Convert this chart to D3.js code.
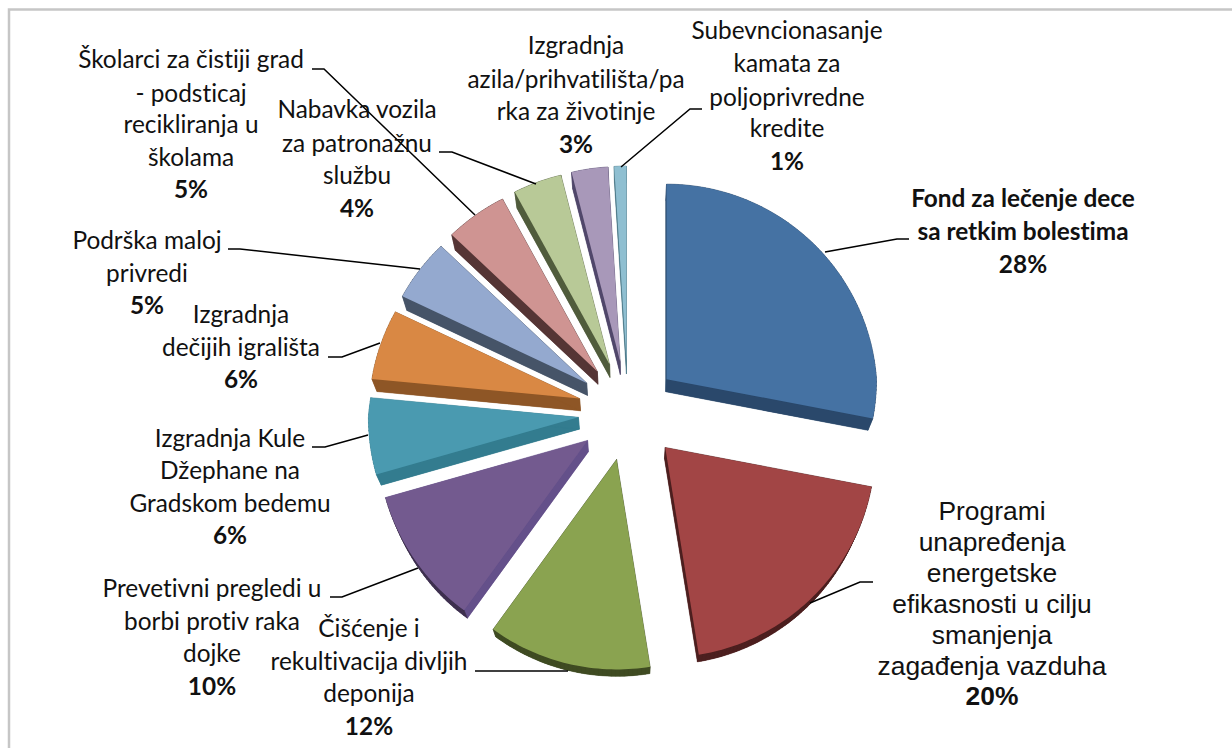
<!DOCTYPE html>
<html>
<head>
<meta charset="utf-8">
<script src="https://cdn.jsdelivr.net/npm/d3@7"></script>
<style>
  html, body { margin: 0; padding: 0; background: #fff; }
  svg { display: block; }
</style>
</head>
<body>
<div id="graph"></div>
<script>
// Data /////////////////////////////////////////////////////////////////////
const values = [28, 20, 12, 10, 6, 6, 5, 5, 4, 3, 1];

const categories = [
  ["Fond za lečenje dece", "sa retkim bolestima"],
  ["Programi", "unapređenja", "energetske", "efikasnosti u cilju", "smanjenja", "zagađenja vazduha"],
  ["Čišćenje i", "rekultivacija divljih", "deponija"],
  ["Prevetivni pregledi u", "borbi protiv raka", "dojke"],
  ["Izgradnja Kule", "Džephane na", "Gradskom bedemu"],
  ["Izgradnja", "dečijih igrališta"],
  ["Podrška maloj", "privredi"],
  ["Školarci za čistiji grad", "- podsticaj", "recikliranja u", "školama"],
  ["Nabavka vozila", "za patronažnu", "službu"],
  ["Izgradnja", "azila/prihvatilišta/pa", "rka za životinje"],
  ["Subevncionasanje", "kamata za", "poljoprivredne", "kredite"]
];

// Colours //////////////////////////////////////////////////////////////////
const topColors = ["#4572a3", "#a24545", "#8aa350", "#735a8f", "#4a9ab0", "#d98844", "#94a9cf", "#cf9492", "#b8c997", "#a898b9", "#8fbfd1"];
const wallColors = ["#2a486b", "#4c1f1f", "#3f4b22", "#64508a", "#337c8f", "#8e5626", "#465468", "#553535", "#505c3c", "#50476a", "#4e7a89"];
const rimColors = ["#2a486b", "#4c1f1f", "#3f4b22", "#3d2f4d", "#337c8f", "#8e5626", "#465468", "#553535", "#505c3c", "#50476a", "#4e7a89"];

// Layout ///////////////////////////////////////////////////////////////////
const svgWidth = 1232;
const svgHeight = 748;
const center = { x: 628, y: 411 };
const explode = 50;
const apexShift = [0, 3, 1, 0, 0, 0, 0, 0, 0, 0, 0];

// label centre x and the baseline of each line (last one is the percent)
const labelX = [1023, 992, 369, 212, 230, 241, 147, 191, 357, 576, 787];
const labelY = [
  [207, 240, 273],
  [520, 551, 582, 613, 644, 675, 705],
  [637, 670, 702, 735],
  [597, 630, 662, 695],
  [447, 479, 512, 544],
  [323, 356, 388],
  [249, 282, 314],
  [68, 102, 133, 166, 198],
  [118, 152, 184, 217],
  [54, 88, 120, 153],
  [39, 72, 106, 137, 170]
];

// leader lines, label end first
const leaders = [
  [[909, 239], [897, 239], [825, 252]],
  [[873, 582], [860, 582], [810, 603]],
  [[475, 671], [568, 671]],
  [[330, 597], [342, 597], [418, 568]],
  [[312, 447], [325, 447], [368, 435]],
  [[328, 357], [342, 357], [380, 343]],
  [[228, 249], [240, 249], [420, 269]],
  [[312, 69], [324, 69], [475, 215]],
  [[439, 152], [452, 152], [536, 184]],
  [[702, 109], [690, 109], [621, 167]]
];

// Perspective: the far side of the pie draws smaller than the near side
const radius = d3.scaleLinear().domain([0, 1]).range([210, 195]);
// and angles get pulled a little around the front (degrees in, degrees of shift out)
const angleShift = d3.scaleLinear()
  .domain([100.8, 172.8, 216, 252, 273.6, 295.2])
  .range([0, -2, 0, 2.2, 1.8, 0])
  .clamp(true);
const lift = 0.98;
const depth = 12;

const svg = d3.select("#graph")
  .append("svg")
  .attr("width", svgWidth)
  .attr("height", svgHeight);

// Frame, only top and left are in the photo
svg.append("path")
  .attr("d", `M9 ${svgHeight} V9.5 H${svgWidth}`)
  .attr("fill", "none")
  .attr("stroke", "#c6c6c6")
  .attr("stroke-width", 2.5);

// Pie //////////////////////////////////////////////////////////////////////
const pie = d3.pie().sort(null).value(d => d)(values);

function topPoint(angle, apex) {
  const a = angle + angleShift(angle * 180 / Math.PI) * Math.PI / 180;
  const r = radius(Math.max(0, Math.cos(a)));
  return [apex[0] + r * Math.sin(a), apex[1] - r * Math.cos(a)];
}

function lowerPoint(p) {
  return [
    center.x + (p[0] - center.x) * lift,
    center.y + (p[1] - center.y) * lift + depth
  ];
}

function sliceOutline(d, i) {
  const mid = (d.startAngle + d.endAngle) / 2;
  const apex = [
    center.x + explode * Math.sin(mid) + apexShift[i],
    center.y - explode * Math.cos(mid)
  ];
  const steps = Math.max(4, Math.ceil((d.endAngle - d.startAngle) / 0.02));
  const arcAngles = d3.range(steps + 1).map(j => d.startAngle + (d.endAngle - d.startAngle) * j / steps);
  return [apex].concat(arcAngles.map(a => topPoint(a, apex)));
}

const line = d3.line();

const slices = svg.append("g")
  .selectAll(".slice")
  .data(pie)
  .join("g")
  .attr("class", "slice");

// lower face and walls first, top face goes on top of them
slices.each(function (d, i) {
  const g = d3.select(this);
  const outline = sliceOutline(d, i);
  const lower = outline.map(lowerPoint);

  g.append("path")
    .attr("d", line(lower) + "Z")
    .attr("fill", wallColors[i]);

  outline.forEach((p, j) => {
    const k = (j + 1) % outline.length;
    const radial = j === 0 || k === 0;
    const color = radial ? wallColors[i] : rimColors[i];
    g.append("path")
      .attr("d", line([p, outline[k], lower[k], lower[j]]) + "Z")
      .attr("fill", color)
      .attr("stroke", color)
      .attr("stroke-width", 0.5);
  });

  g.append("path")
    .attr("d", line(outline) + "Z")
    .attr("fill", topColors[i]);
});

// Leaders //////////////////////////////////////////////////////////////////
svg.append("g")
  .selectAll("path")
  .data(leaders)
  .join("path")
  .attr("d", d => line(d))
  .attr("fill", "none")
  .attr("stroke", "#000")
  .attr("stroke-width", 1.5);

// Labels ///////////////////////////////////////////////////////////////////
const labels = svg.append("g")
  .selectAll("text")
  .data(categories)
  .join("text")
  .attr("text-anchor", "middle")
  .attr("fill", "#111")
  .style("font-family", (d, i) => i === 1 ? "'Liberation Sans'" : "Lato")
  .style("font-size", (d, i) => i === 1 ? "26.4px" : "24.4px")
  .style("font-variant-ligatures", "none")
  .style("font-weight", (d, i) => i === 0 ? 700 : 400);

labels.each(function (d, i) {
  const text = d3.select(this);
  d.concat(values[i] + "%").forEach((t, j) => {
    text.append("tspan")
      .attr("x", labelX[i])
      .attr("y", labelY[i][j])
      .style("font-weight", j === d.length ? 700 : null)
      .text(t);
  });
});
</script>
</body>
</html>
